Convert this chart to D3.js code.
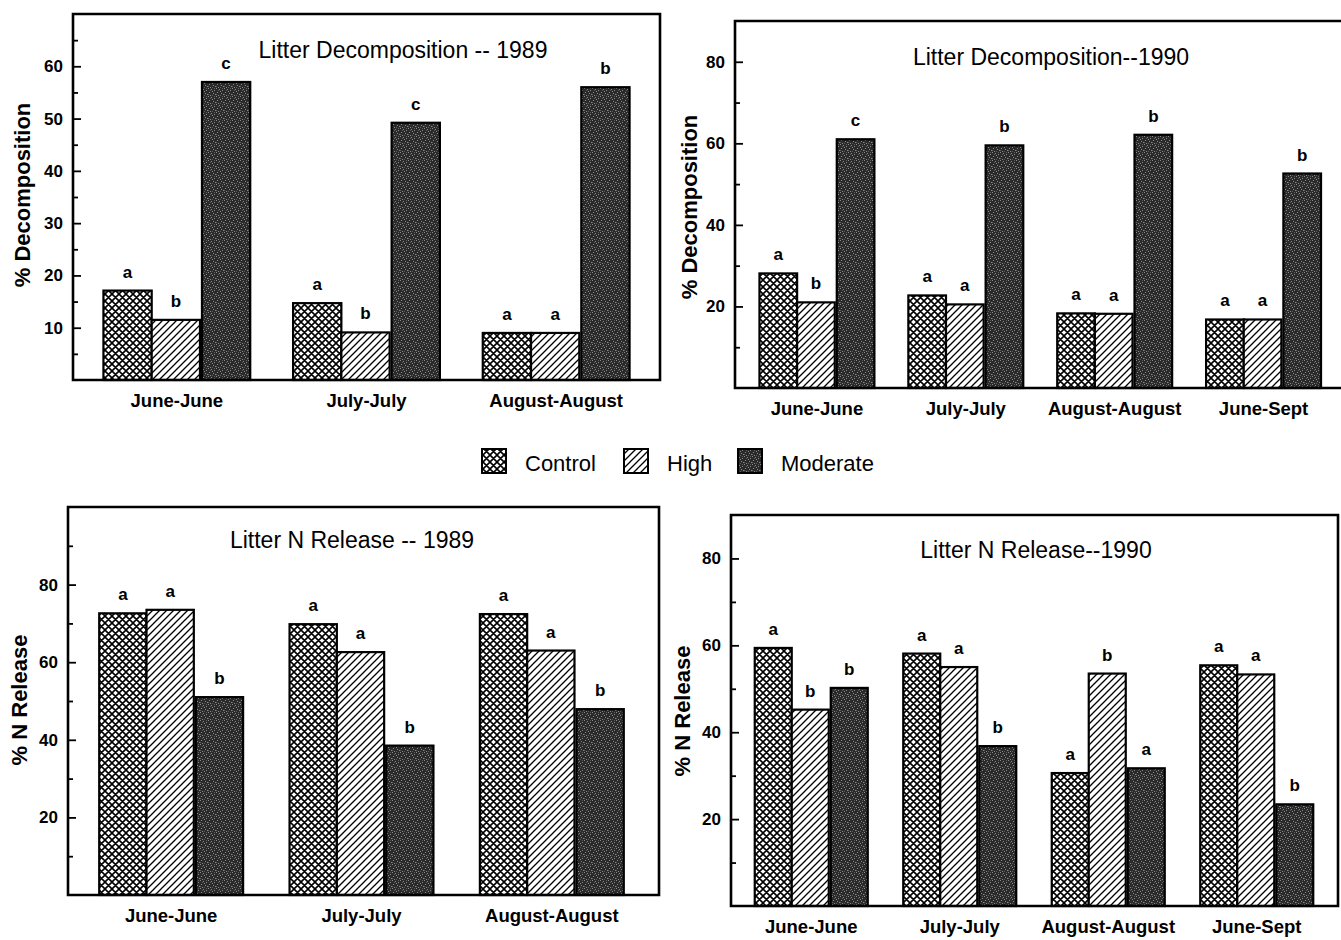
<!DOCTYPE html>
<html lang="en">
<head>
  <meta charset="UTF-8">
  <title>Litter Decomposition and N Release</title>
  <script src="https://d3js.org/d3.v7.min.js"></script>
  <style>
    body {
      margin: 0;
      background: #fff;
      font-family: 'Liberation Sans', Arial, sans-serif;
    }
    svg { display: block; }
    .tick text { font-size: 17px; font-weight: bold; fill: #000; }
    .tick line { stroke: #000; stroke-width: 1.8; }
    .domain { display: none; }
  </style>
</head>
<body>
  <svg width="1341" height="940"></svg>

  <script>
    // categories
    const groups89 = ["June-June", "July-July", "August-August"];
    const groups90 = ["June-June", "July-July", "August-August", "June-Sept"];
    const treatments = ["Control", "High", "Moderate"];

    // values per group: [Control, High, Moderate]
    const decomp89 = [[17.1, 11.5, 57.0], [14.7, 9.1, 49.2], [9.0, 9.0, 56.0]];
    const decomp89Letters = [["a", "b", "c"], ["a", "b", "c"], ["a", "a", "b"]];

    const decomp90 = [[28.1, 21.0, 61.0], [22.7, 20.5, 59.5], [18.3, 18.2, 62.1], [16.8, 16.8, 52.6]];
    const decomp90Letters = [["a", "b", "c"], ["a", "a", "b"], ["a", "a", "b"], ["a", "a", "b"]];

    const nrel89 = [[72.6, 73.5, 51.0], [69.8, 62.6, 38.5], [72.4, 63.0, 47.9]];
    const nrel89Letters = [["a", "a", "b"], ["a", "a", "b"], ["a", "a", "b"]];

    const nrel90 = [[59.4, 45.2, 50.2], [58.1, 55.0, 36.8], [30.6, 53.5, 31.7], [55.4, 53.3, 23.4]];
    const nrel90Letters = [["a", "b", "b"], ["a", "a", "b"], ["a", "b", "a"], ["a", "a", "b"]];

    // tick labels
    const ticksDecomp89 = [10, 20, 30, 40, 50, 60];
    const minorDecomp89 = [5, 15, 25, 35, 45, 55, 65];
    const ticksBy20 = [20, 40, 60, 80];
    const minor90 = [10, 30, 50, 70];
    const minor100 = [10, 30, 50, 70, 90];

    const svg = d3.select("svg");
    const defs = svg.append("defs");

    // crosshatch for Control
    const cross = defs.append("pattern").attr("id", "pCross")
      .attr("patternUnits", "userSpaceOnUse").attr("width", 7).attr("height", 7);
    cross.append("rect").attr("width", 7).attr("height", 7).attr("fill", "#fff");
    cross.append("path")
      .attr("d", "M0,7L7,0M-1.75,1.75L1.75,-1.75M5.25,8.75L8.75,5.25M0,0L7,7M-1.75,5.25L1.75,8.75M5.25,-1.75L8.75,1.75")
      .attr("stroke", "#000").attr("stroke-width", 1.6);

    // diagonal hatch for High
    const hatch = defs.append("pattern").attr("id", "pHatch")
      .attr("patternUnits", "userSpaceOnUse").attr("width", 7).attr("height", 7);
    hatch.append("rect").attr("width", 7).attr("height", 7).attr("fill", "#fff");
    hatch.append("path")
      .attr("d", "M0,7L7,0M-1.75,1.75L1.75,-1.75M5.25,8.75L8.75,5.25")
      .attr("stroke", "#000").attr("stroke-width", 1.3);

    // dark stipple for Moderate
    const dots = defs.append("pattern").attr("id", "pDark")
      .attr("patternUnits", "userSpaceOnUse").attr("width", 8).attr("height", 8);
    dots.append("rect").attr("width", 8).attr("height", 8).attr("fill", "#2a2a2a");
    [[0, 0], [3, 1], [6, 2], [1, 4], [5, 5], [2, 7], [7, 6], [4, 3]].forEach(p => {
      dots.append("rect").attr("x", p[0]).attr("y", p[1]).attr("width", 1).attr("height", 1).attr("fill", "#8a8a8a");
    });
    [[2, 2], [6, 0], [0, 6], [4, 7]].forEach(p => {
      dots.append("rect").attr("x", p[0]).attr("y", p[1]).attr("width", 1).attr("height", 1).attr("fill", "#5c5c5c");
    });

    const fills = { Control: "url(#pCross)", High: "url(#pHatch)", Moderate: "url(#pDark)" };

    function panel(cfg) {
      const g = svg.append("g");
      const y = d3.scaleLinear().domain([0, cfg.ymax]).range([cfg.bottom, cfg.top]);
      const x = d3.scaleBand().domain(cfg.groups).range(cfg.xr)
        .paddingInner(cfg.pad).paddingOuter(cfg.pad / 2);
      const gap = 2;
      const bw = (x.bandwidth() - gap) / 3;
      const sub = d3.scaleBand().domain(treatments).range([0, bw * 3]);
      const offset = t => sub(t) + (t === "Moderate" ? gap : 0);

      // bars
      cfg.groups.forEach((grp, i) => {
        treatments.forEach((t, j) => {
          const v = cfg.values[i][j];
          const x0 = x(grp) + offset(t);
          g.append("rect")
            .attr("x", x0).attr("y", y(v))
            .attr("width", bw).attr("height", y(0) - y(v))
            .attr("fill", fills[t]).attr("stroke", "#000").attr("stroke-width", 2.2);
          g.append("text")
            .attr("x", x0 + bw / 2).attr("y", y(v) - 13)
            .attr("text-anchor", "middle")
            .attr("font-size", 17).attr("font-weight", "bold")
            .text(cfg.letters[i][j]);
        });
        g.append("text")
          .attr("x", x(grp) + x.bandwidth() / 2).attr("y", cfg.bottom + 27)
          .attr("text-anchor", "middle")
          .attr("font-size", 18.5).attr("font-weight", "bold")
          .text(grp);
      });

      // axis: major and minor ticks pointing inward
      g.append("g").attr("transform", `translate(${cfg.left},0)`)
        .call(d3.axisLeft(y).tickValues(cfg.ticks).tickSizeInner(-8).tickSizeOuter(0).tickPadding(10));
      g.append("g").attr("transform", `translate(${cfg.left},0)`)
        .call(d3.axisLeft(y).tickValues(cfg.minor).tickSizeInner(-5).tickSizeOuter(0).tickFormat(""));

      // frame
      const frame = cfg.right
        ? `M${cfg.left},${cfg.bottom}V${cfg.top}H${cfg.right}V${cfg.bottom}Z`
        : `M1341,${cfg.top}H${cfg.left}V${cfg.bottom}H1341`;
      g.append("path").attr("d", frame).attr("fill", "none")
        .attr("stroke", "#000").attr("stroke-width", 2.6);

      // titles
      g.append("text")
        .attr("x", cfg.titleX).attr("y", cfg.titleY)
        .attr("text-anchor", "middle").attr("font-size", 23)
        .text(cfg.title);
      g.append("text")
        .attr("transform", `translate(${cfg.ylabX},${cfg.ylabY}) rotate(-90)`)
        .attr("text-anchor", "middle").attr("font-size", 22).attr("font-weight", "bold")
        .text(cfg.ylabel);
    }

    panel({
      groups: groups89, values: decomp89, letters: decomp89Letters,
      ymax: 70, ticks: ticksDecomp89, minor: minorDecomp89,
      left: 73, right: 660, top: 14, bottom: 380, xr: [82, 651], pad: 0.226,
      title: "Litter Decomposition -- 1989", titleX: 403, titleY: 58,
      ylabel: "% Decomposition", ylabX: 30, ylabY: 195
    });

    panel({
      groups: groups90, values: decomp90, letters: decomp90Letters,
      ymax: 90, ticks: ticksBy20, minor: minor90,
      left: 735, right: null, top: 21, bottom: 388, xr: [742.5, 1338], pad: 0.228,
      title: "Litter Decomposition--1990", titleX: 1051, titleY: 65,
      ylabel: "% Decomposition", ylabX: 697, ylabY: 207
    });

    panel({
      groups: groups89, values: nrel89, letters: nrel89Letters,
      ymax: 100, ticks: ticksBy20, minor: minor100,
      left: 68, right: 659, top: 507, bottom: 895, xr: [76, 647], pad: 0.244,
      title: "Litter N Release -- 1989", titleX: 352, titleY: 548,
      ylabel: "% N Release", ylabX: 27, ylabY: 700
    });

    panel({
      groups: groups90, values: nrel90, letters: nrel90Letters,
      ymax: 90, ticks: ticksBy20, minor: minor90,
      left: 731, right: 1338, top: 515, bottom: 906, xr: [737, 1331], pad: 0.239,
      title: "Litter N Release--1990", titleX: 1036, titleY: 558,
      ylabel: "% N Release", ylabX: 690, ylabY: 711
    });

    // legend
    const legendX = [482, 624, 738];
    const legend = svg.append("g");
    treatments.forEach((t, i) => {
      legend.append("rect")
        .attr("x", legendX[i]).attr("y", 449).attr("width", 24).attr("height", 24)
        .attr("fill", fills[t]).attr("stroke", "#000").attr("stroke-width", 2);
      legend.append("text")
        .attr("x", legendX[i] + 43).attr("y", 471)
        .attr("font-size", 22)
        .text(t);
    });
  </script>
</body>
</html>
